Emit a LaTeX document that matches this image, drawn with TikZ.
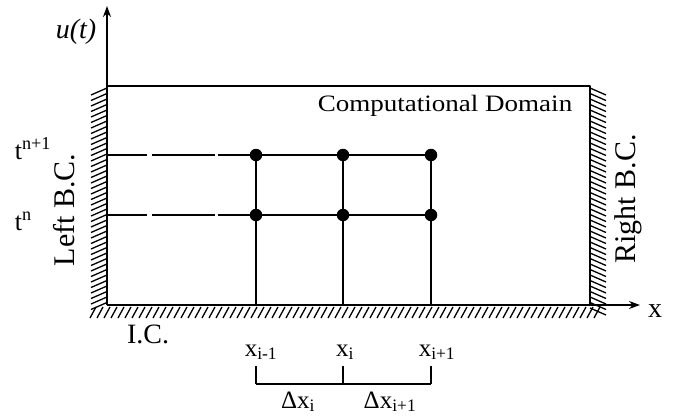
\documentclass[tikz,border=0pt]{standalone}
\usepackage{fontspec}
\setmainfont{Liberation Serif}
\usetikzlibrary{positioning,arrows.meta}
\begin{document}
\begin{tikzpicture}[x=1pt,y=-1pt,line join=round,>={Stealth[length=11pt,width=8pt]},line width=1.8pt]
	\tikzset{every node/.style={inner sep=0pt},
		dot/.style={circle,fill,inner sep=0pt,minimum size=12.5pt},
		hatch/.style={line width=1.3pt},
		lbl/.style={font=\fontsize{25}{27}\selectfont},
		big/.style={font=\fontsize{30}{32}\selectfont}}
	\useasboundingbox (0,0) rectangle (673,418);
	% frame and axes
	\coordinate (O) at (107,305);
	\coordinate (TL) at (107,86);
	\coordinate (TR) at (590,86);
	\coordinate (BR) at (590,305);
	\coordinate (ytip) at (107,6);
	\coordinate (xtip) at (640,305);
	\foreach \y in {88,93.5,...,303} \draw[hatch] (107,\y) -- (91,\y+7);
	\foreach \y in {88,93.5,...,308} \draw[hatch] (590,\y) -- (606,\y+7);
	\foreach \x in {96,103,...,600} \draw[hatch] (\x,307) -- (\x-6,318);
	\draw[->] (O) -- (ytip);
	\draw[->] (O) -- (xtip);
	\draw (TL) -- (TR) -- (BR);
	% grid points
	\foreach \i/\x in {0/256,1/343,2/431} {
		\coordinate (a\i) at (\x,215);
		\coordinate (b\i) at (\x,155);
		\coordinate (f\i) at (\x,305);
		\coordinate (k\i) at (\x,384);
		\coordinate (h\i) at (\x,366);
	}
	\coordinate (ln0) at (107,215);
	\coordinate (ln1) at (107,155);
	\draw[dash pattern=on 40pt off 5pt on 63pt off 3pt on 400pt] (ln1) -- (b2);
	\draw[dash pattern=on 40pt off 5pt on 63pt off 3pt on 400pt] (ln0) -- (a2);
	\foreach \i in {0,1,2} {
		\draw (b\i) -- (f\i);
		\node[dot] (pa\i) at (a\i) {};
		\node[dot] (pb\i) at (b\i) {};
	}
	% spacing bracket
	\draw (k0) -- (k2);
	\foreach \i in {0,1,2} \draw (h\i) -- (k\i);
	% labels
	\node[lbl,font=\fontsize{28}{30}\selectfont\itshape] (ut) at (76,32) {u(t)};
	\node[lbl,font=\fontsize{28}{30}\selectfont] (xl) at (655,311) {x};
	\node[lbl,xscale=1.15,font=\fontsize{23.5}{25}\selectfont] (cd) at (445,106) {Computational Domain};
	\node[big,rotate=90] (lbc) at (64,210) {Left B.C.};
	\node[big,rotate=90] (rbc) at (628,199) {Right B.C.};
	\node[lbl,anchor=base west,font=\fontsize{26}{28}\selectfont] (tn1) at (14,159) {t\textsuperscript{n+1}};
	\node[lbl,anchor=base west,font=\fontsize{26}{28}\selectfont] (tn0) at (14,230) {t\textsuperscript{n}};
	\node[lbl,font=\fontsize{28}{30}\selectfont] (ic) at (148,334) {I.C.};
	\node[lbl,anchor=base] (xm) at (261,356) {x\textsubscript{i-1}};
	\node[lbl,anchor=base] (xc) at (345,356) {x\textsubscript{i}};
	\node[lbl,anchor=base] (xp) at (437,356) {x\textsubscript{i+1}};
	\node[lbl,anchor=base] (dxi) at (298,408) {Δx\textsubscript{i}};
	\node[lbl,anchor=base] (dxp) at (390,408) {Δx\textsubscript{i+1}};
\end{tikzpicture}
\end{document}
